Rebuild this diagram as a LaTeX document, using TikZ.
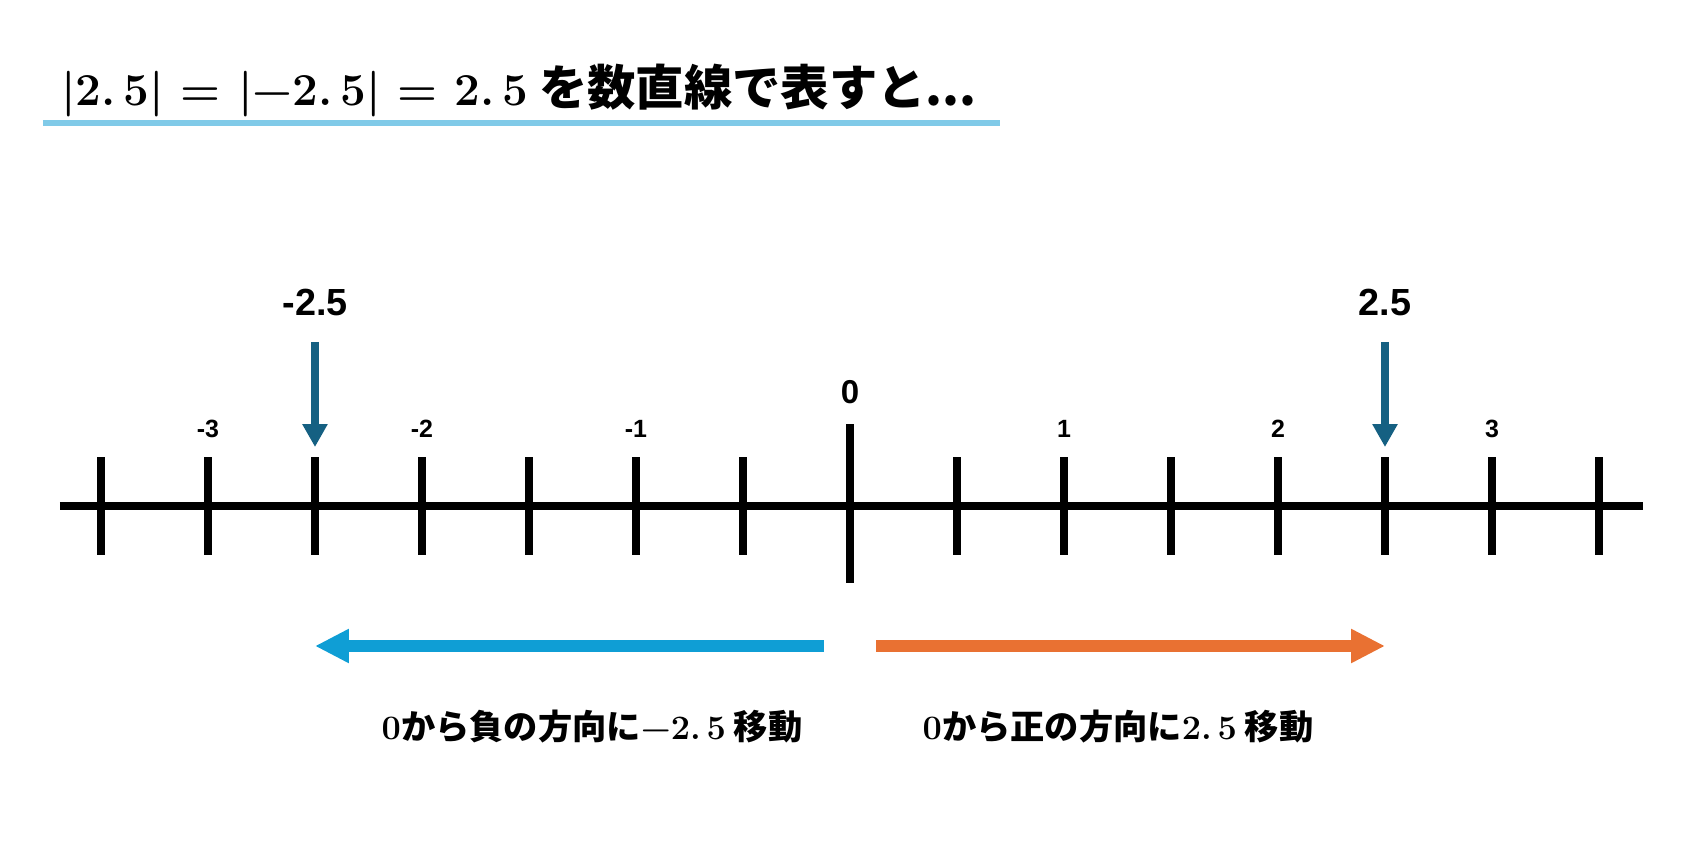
\documentclass[tikz,border=0pt]{standalone}
\usepackage{fontspec}
\setmainfont{Liberation Sans}
\newfontfamily\jpfont{Noto Sans CJK JP}
\newfontfamily\numfont{Latin Modern Roman}
\usetikzlibrary{arrows.meta, positioning}

\definecolor{pointblue}{HTML}{156082}
\definecolor{negblue}{HTML}{0F9ED5}
\definecolor{posorange}{HTML}{E97132}
\definecolor{lineblue}{HTML}{80CAE8}

\begin{document}
\begin{tikzpicture}[
    axisline/.style={line width=4pt, black},
    tickline/.style={line width=4.5pt, black},
    ticklabel/.style={font=\fontsize{14.2}{16}\selectfont\bfseries},
    pointer/.style={-{Triangle[width=0.48cm, length=0.46cm]}, line width=4pt, pointblue},
    pointlabel/.style={font=\fontsize{21.5}{24}\selectfont\bfseries},
    zerolabel/.style={font=\fontsize{18.8}{22}\selectfont\bfseries},
    move/.style={-{Triangle[width=0.64cm, length=0.68cm]}, line width=6.3pt},
    caption/.style={font=\jpfont\bfseries\fontsize{19.5}{22}\selectfont},
    heading/.style={anchor=west, inner sep=0pt, font=\jpfont\bfseries\fontsize{27.5}{30}\selectfont}
]
\useasboundingbox (-17,-6.82) rectangle (16.74,10.12);

% Title
\node[heading] (title) at (-15.78,8.32)
    {{\numfont\bfseries\fontsize{26}{30}\selectfont |2.\thinspace 5| = |−2.\thinspace 5| = 2.\thinspace 5} を数直線で表すと...};
\coordinate (ulstart) at (-16.14,7.66);
\coordinate (ulend) at (3.0,7.66);
\draw[line width=2.85pt, lineblue] (ulstart) -- (ulend);

% Number line
\coordinate (axleft) at (-15.8,0);
\coordinate (axright) at (15.86,0);
\draw[axisline] (axleft) -- (axright);
\foreach \k in {-7,...,-1,1,2,...,7}
    \draw[tickline] (\k*2.14,0.98) -- (\k*2.14,-0.98);
\coordinate (zerotop) at (0,1.64);
\coordinate (zerobot) at (0,-1.54);
\draw[tickline] (zerotop) -- (zerobot);

% Labels
\node[ticklabel] (lm3) at (-12.84,1.54) {-3};
\node[ticklabel] (lm2) at (-8.56,1.54) {-2};
\node[ticklabel] (lm1) at (-4.28,1.54) {-1};
\node[zerolabel] (l0) at (0,2.28) {0};
\node[ticklabel] (lp1) at (4.28,1.54) {1};
\node[ticklabel] (lp2) at (8.56,1.54) {2};
\node[ticklabel] (lp3) at (12.84,1.54) {3};

% Pointers at -2.5 and 2.5
\node[pointlabel] (negval) at (-10.7,4.08) {-2.5};
\node[pointlabel] (posval) at (10.7,4.08) {2.5};
\coordinate (negfrom) at (-10.7,3.28);
\coordinate (negto) at (-10.7,1.18);
\coordinate (posfrom) at (10.7,3.28);
\coordinate (posto) at (10.7,1.18);
\draw[pointer] (negfrom) -- (negto);
\draw[pointer] (posfrom) -- (posto);

% Movement arrows
\coordinate (negstart) at (-0.52,-2.8);
\coordinate (negend) at (-10.7,-2.8);
\coordinate (posstart) at (0.52,-2.8);
\coordinate (posend) at (10.7,-2.8);
\draw[move, negblue] (negstart) -- (negend);
\draw[move, posorange] (posstart) -- (posend);

\node[caption] (negtext) at (-5.16,-4.42)
    {{\numfont\bfseries 0}から負の方向に{\numfont\bfseries −2.\thinspace 5} 移動};
\node[caption] (postext) at (5.36,-4.42)
    {{\numfont\bfseries 0}から正の方向に{\numfont\bfseries 2.\thinspace 5} 移動};

\end{tikzpicture}
\end{document}
